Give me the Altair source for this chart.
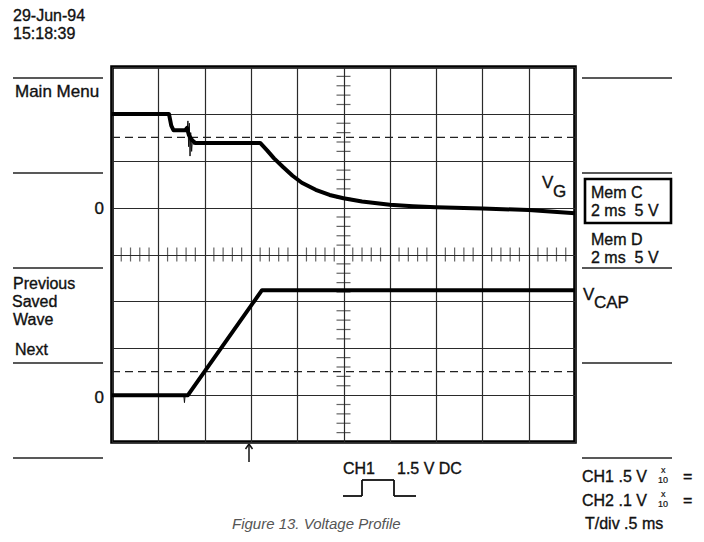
import altair as alt
import pandas as pd

# ---------------- data (screen divisions: time 0..10, amplitude 0..8) ----------------
vg_t = [0.00, 1.23, 1.28, 1.33, 1.58, 1.62, 1.66, 1.72, 1.80, 3.20, 3.35, 3.50, 3.70,
        3.90, 4.10, 4.40, 4.70, 5.00, 5.40, 6.00, 6.50, 7.00, 8.00, 9.00, 10.00]
vg_v = [7.00, 7.00, 6.75, 6.65, 6.65, 6.70, 6.55, 6.45, 6.38, 6.38, 6.22, 6.05, 5.86,
        5.68, 5.53, 5.38, 5.27, 5.20, 5.13, 5.06, 5.03, 5.01, 4.98, 4.95, 4.88]
vcap_t = [0.00, 1.64, 3.24, 10.00]
vcap_v = [1.00, 1.00, 3.24, 3.24]
noise_t = [1.60, 1.62, 1.64, 1.655, 1.67, 1.685, 1.70, 1.72, 1.74, 1.76, 1.78]
noise_v = [6.66, 6.62, 6.85, 6.30, 6.80, 6.10, 6.60, 6.20, 6.50, 6.35, 6.40]
glitch_t = [1.55, 1.565, 1.58]
glitch_v = [1.00, 0.84, 1.00]
dash_levels = [6.5, 1.5]
x_grid = list(range(0, 11))
y_grid = list(range(0, 9))
minor_step = 0.2

# ---------------- page geometry ----------------
OX, OY = 112, 67           # page position of the graticule's top-left corner
W, H = 463, 375
FONT = "Liberation Sans"
TC = "#111111"
NB = "\u00a0"

traces = pd.DataFrame(
    {"t": vg_t + vcap_t, "v": vg_v + vcap_v,
     "s": ["VG"] * len(vg_t) + ["VCAP"] * len(vcap_t)})
thin = pd.DataFrame(
    {"t": noise_t + glitch_t, "v": noise_v + glitch_v,
     "s": ["n"] * len(noise_t) + ["g"] * len(glitch_t)})
hx = [round(k * minor_step, 2) for k in range(1, 50) if k % 5]
vy = [round(k * minor_step, 2) for k in range(1, 40) if k % 5]
hticks = pd.DataFrame({"t": hx, "v": [4] * len(hx)})
vticks = pd.DataFrame({"t": [5] * len(vy), "v": vy})
dashes = pd.DataFrame({"v": dash_levels})

AX_X = alt.Axis(values=x_grid, grid=True, labels=False, ticks=False, domain=False,
                title=None, gridColor="#2a2a2a", gridWidth=1.2, gridOpacity=1)
AX_Y = alt.Axis(values=y_grid, grid=True, labels=False, ticks=False, domain=False,
                title=None, gridColor="#2a2a2a", gridWidth=1.2, gridOpacity=1)
SX = alt.Scale(domain=[0, 10], nice=False, zero=False)
SY = alt.Scale(domain=[0, 8], nice=False, zero=False)
X = alt.X("t:Q", scale=SX, axis=AX_X)
Y = alt.Y("v:Q", scale=SY, axis=AX_Y)

layers = []
layers.append(alt.Chart(dashes).mark_rule(color="#222", strokeWidth=1.2, strokeDash=[8, 5])
              .encode(y=Y))
layers.append(alt.Chart(hticks).mark_tick(orient="vertical", size=14, thickness=1.2, color="#222")
              .encode(x=X, y=Y))
layers.append(alt.Chart(vticks).mark_tick(orient="horizontal", size=14, thickness=1.2, color="#222")
              .encode(x=X, y=Y))
layers.append(alt.Chart(thin).mark_line(color="#111", strokeWidth=1)
              .encode(x=X, y=Y, detail="s:N"))
layers.append(alt.Chart(traces).mark_line(color="#000", strokeWidth=4, strokeJoin="round")
              .encode(x=X, y=Y, detail="s:N"))

one = pd.DataFrame({"k": [0]})


def txt(s, x, y, size=17, align="left", color=TC, sw=0.35, **kw):
    return alt.Chart(one).mark_text(text=s, align=align, baseline="alphabetic",
                                    fontSize=size, font=FONT, color=color,
                                    stroke=color, strokeWidth=sw, **kw).encode(
        x=alt.value(x - OX), y=alt.value(y - OY))


def seg(x1, y1, x2, y2, w=1.3, color="#222"):
    return alt.Chart(one).mark_rule(color=color, strokeWidth=w).encode(
        x=alt.value(x1 - OX), y=alt.value(y1 - OY),
        x2=alt.value(x2 - OX), y2=alt.value(y2 - OY))


# separator lines beside the screen
for yy in [78, 173, 268, 363, 458]:
    layers.append(seg(13, yy, 103, yy))
    layers.append(seg(582, yy, 672, yy))

# left texts
layers += [
    txt("29-Jun-94", 13, 21, size=16), txt("15:18:39", 13, 39, size=16),
    txt("Main Menu", 15, 97),
    txt("0", 104, 214, align="right"),
    txt("Previous", 13, 289, size=16), txt("Saved", 12, 307, size=16),
    txt("Wave", 13, 325, size=16),
    txt("Next", 15, 355, size=16),
    txt("0", 104, 403, align="right"),
]

# right texts
layers += [
    txt("V", 542, 188), txt("G", 553, 197),
    txt("V", 583, 300), txt("CAP", 594, 308),
    txt("Mem C", 591, 198, size=16), txt("2 ms" + NB + " 5 V", 591, 216, size=16),
    txt("Mem D", 591, 245, size=16), txt("2 ms" + NB + " 5 V", 591, 263, size=16),
    txt("CH1 .5 V", 582, 482, size=16),
    txt("x", 661, 473, size=9, sw=0.2), txt("10", 658, 483, size=9, sw=0.2),
    txt("=", 683, 482, size=16),
    txt("CH2 .1 V", 582, 506, size=16),
    txt("x", 661, 497, size=9, sw=0.2), txt("10", 658, 507, size=9, sw=0.2),
    txt("=", 683, 506, size=16),
    txt("T/div .5 ms", 585, 529, size=16),
]
layers.append(alt.Chart(one).mark_rect(fillOpacity=0, stroke="#000", strokeWidth=2.6).encode(
    x=alt.value(585 - OX), x2=alt.value(671 - OX), y=alt.value(179 - OY), y2=alt.value(223 - OY)))

# bottom: trigger arrow, channel info, pulse glyph, caption
layers += [
    seg(249, 444, 249, 462, w=1.5, color="#111"),
    seg(245.5, 449, 249, 444, w=1.5, color="#111"),
    seg(252.5, 449, 249, 444, w=1.5, color="#111"),
    txt("CH1", 343, 474, size=16), txt("1.5 V DC", 397, 474, size=16),
    seg(343, 496, 362, 496, w=1.8, color="#111"),
    seg(362, 496, 362, 480, w=1.8, color="#111"),
    seg(362, 480, 394, 480, w=1.8, color="#111"),
    seg(394, 480, 394, 496, w=1.8, color="#111"),
    seg(394, 496, 416, 496, w=1.8, color="#111"),
    txt("Figure 13. Voltage Profile", 232, 529, size=15, color="#555", sw=0,
        fontStyle="italic"),
]

chart = alt.layer(*layers).properties(
    width=W, height=H,
    padding={"left": OX - 8, "top": OY - 8, "right": 688 - (OX - 8) - W,
             "bottom": 526 - (OY - 8) - H},
    autosize=alt.AutoSizeParams(type="none"),
    background="white",
).configure_view(stroke="#000", strokeWidth=3.6)

chart.save("out.html", embed_options={"renderer": "svg", "actions": False})
